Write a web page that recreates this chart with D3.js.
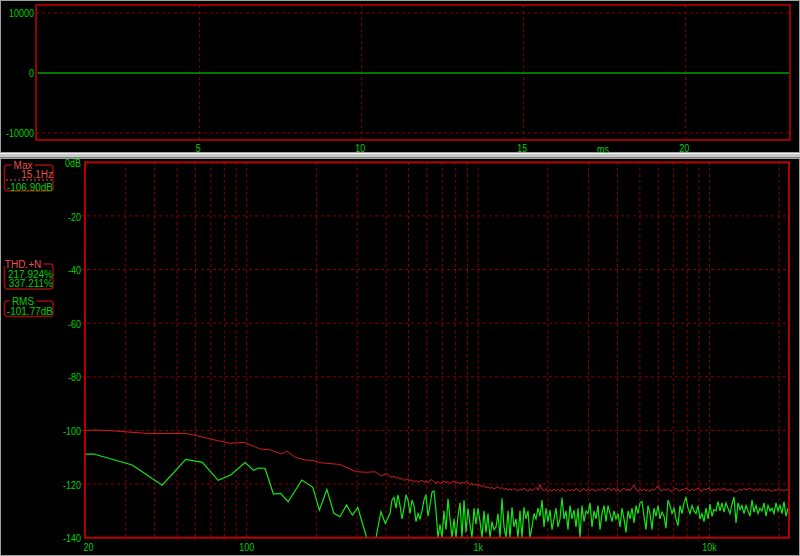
<!DOCTYPE html>
<html>
<head>
<meta charset="utf-8">
<script src="https://cdn.jsdelivr.net/npm/d3@7"></script>
<style>
  html, body { margin: 0; padding: 0; background: #000; }
  svg { display: block; }
  text { font-family: "Liberation Sans", Arimo, sans-serif; }
</style>
</head>
<body>
<main></main>
<script>
// ---------- data ----------
const timeMs = [0, 23.2];
const timeAmp = [0, 0];
const ampTicks = [10000, 0, -10000];
const msTicks = [5, 10, 15, 20];

const dbTicks = [0, -20, -40, -60, -80, -100, -120, -140];
const dbTickLabels = ['0dB', '-20', '-40', '-60', '-80', '-100', '-120', '-140'];
const freqGrid = [30, 40, 50, 60, 70, 80, 90, 100, 200, 300, 400, 500, 600, 700, 800, 900,
                  1000, 2000, 3000, 4000, 5000, 6000, 7000, 8000, 9000, 10000, 20000];
const freqLabelValues = [20, 100, 1000, 10000];
const freqLabelTexts = ['20', '100', '1k', '10k'];

// low end of the spectrum, read point by point
const greenLowHz = [20, 21.8, 32, 43.1, 54.5, 64.3, 75.2, 85.3, 98.4, 107, 112, 120, 130.4, 140, 151,
                    173, 193, 206, 222, 238, 253, 270, 286, 302, 313, 330, 362, 380, 397];
const greenLowDb = [-108.8, -108.8, -112.9, -120.4, -110.8, -111.9, -118.6, -116.6, -112.0, -114.9, -114.0, -114.1, -123.7, -123.5, -126.6,
                    -118.5, -121.2, -129.7, -122.0, -130.9, -132.2, -127.8, -131.6, -128.7, -133.4, -140, -140, -130.3, -134.7];

const redLowHz = [20, 21.8, 26.7, 37.1, 54.5, 61.2, 74.7, 85.3, 97.5, 114, 125.8, 141.7, 148.8, 161.6,
                  178.6, 197, 206, 253, 274, 298, 330, 358, 383, 402];
const redLowDb = [-100.1, -99.8, -100.2, -101.1, -101.1, -102.0, -103.8, -104.8, -104.4, -106.9, -107.2, -108.8, -107.7, -110.0,
                  -111.0, -111.3, -112.0, -112.7, -114.1, -115.4, -115.6, -115.4, -117.0, -116.0];

// dense upper band, evenly spaced on the log axis from denseStartHz to denseEndHz
const denseStartHz = 416;
const denseEndHz = 21830;
const greenDenseDb = [
  -131, -126, -125, -129, -124, -128, -133, -129, -124, -126, -131, -126, -128, -134, -131, -133, -130, -126, -124, -132,
  -128, -123, -122.6, -130, -140, -135,
  -140, -130, -137, -125.5, -133, -140, -133, -140, -132, -127, -140, -126, -138, -129, -135, -140, -129, -135, -129, -134,
  -140, -130, -138, -131, -140, -134, -137, -136, -131, -140, -125.3, -136, -140, -130, -140, -128.7, -136, -133, -140, -130,
  -140, -128.7, -133, -130, -140, -136, -131, -133, -129, -132, -126, -136, -129, -134, -129.7, -137, -133, -129, -136, -133,
  -125, -133, -130, -137, -128, -133, -129.7, -136, -129, -140, -128, -134, -130, -131, -127, -136, -130, -133, -128, -137,
  -131, -128, -134, -128, -131, -134, -130, -133,
  -131, -136, -129, -133, -138, -130, -133, -129, -134.5, -128, -131, -127, -126.5, -132, -137, -128, -131, -137, -129, -132,
  -128, -133, -130.5, -132, -136.5, -126, -128, -131, -129, -133, -135.5, -128, -131, -127, -125, -129, -131, -128, -130, -131,
  -128, -133, -131, -134, -129, -133, -127.5, -132, -129.5, -130, -126.5, -130, -127, -130.5, -127, -129, -131, -127.5, -124.8, -134.5,
  -127, -129.5, -128, -131, -128, -130, -132, -126, -130.5, -128, -131, -129, -130, -127, -132, -128, -130, -129, -131, -127,
  -130, -128, -131, -126.5, -132, -129
];
const redDenseDb = [
  -117.2, -117.5, -117.0, -117.8, -117.6, -118.2, -117.9, -118.6, -118.3, -118.0, -118.8, -118.4, -119.2, -118.7, -119.3, -119.0, -118.5, -119.4, -118.9, -119.5,
  -118.6, -118.3, -119.2, -119.6, -119.0, -119.8, -119.3, -118.9, -119.5, -119.1, -119.7, -119.2, -118.8, -119.6, -119.4, -119.9, -119.3, -119.7, -119.0, -119.6,
  -120.1, -119.8, -120.4, -120.0, -120.6, -120.3, -120.9, -120.7, -121.3, -121.0, -121.6, -121.2, -121.8, -121.4, -120.9, -121.7, -121.3, -122.0, -121.5, -122.2,
  -121.8, -122.4, -121.6, -122.1, -122.5, -121.9, -122.3, -121.5, -122.2, -122.6, -121.8, -122.4, -122.0, -121.2, -122.3, -120.2, -122.0, -122.5, -121.7, -122.8,
  -122.1, -122.6, -121.9, -122.4, -122.0, -122.7, -121.6, -122.3, -122.8, -121.9, -122.5, -122.0, -122.6, -121.5, -122.2, -122.9, -122.1, -121.7, -122.4, -122.0,
  -122.6, -121.8, -122.3, -122.7, -121.9, -122.4, -121.6, -122.2, -122.5, -121.4, -122.0, -122.3, -121.5, -122.6, -121.8, -122.9, -122.2, -121.6, -122.3, -121.9,
  -122.5, -121.3, -120.4, -122.1, -122.6, -122.0, -122.4, -121.8, -122.5, -122.1, -122.7, -121.9, -122.3, -121.6, -120.6, -122.2, -122.5, -121.8, -122.3, -121.7,
  -122.4, -122.8, -122.0, -121.5, -122.3, -122.6, -121.9, -122.2, -121.4, -122.1, -122.5, -121.8, -122.4, -122.0, -121.6, -122.3, -122.7, -121.8, -122.2, -121.5,
  -122.1, -122.6, -121.9, -122.4, -121.7, -122.3, -122.0, -121.4, -122.2, -122.5, -121.8, -122.1, -122.8, -123.0, -122.3, -121.9, -122.4, -121.6, -122.2, -122.0,
  -121.4, -122.1, -122.6, -121.8, -122.3, -121.7, -122.4, -122.0, -122.7, -121.9, -122.3, -122.8, -122.0, -122.5, -121.8, -122.4, -122.1, -122.6, -122.0, -122.3
];

// readouts in the left column
const maxReadout = ['15.1Hz', '-106.90dB'];
const thdReadout = ['217.924%', '337.211%'];
const rmsReadout = ['-101.77dB'];

// ---------- drawing ----------
const width = 800;
const height = 556;

const gridColor = '#8a0000';
const borderColor = '#c80000';
const labelColor = '#00d000';
const redText = '#e85050';

const svg = d3.select('main').append('svg')
  .attr('width', width)
  .attr('height', height);

svg.append('rect').attr('width', width).attr('height', height).attr('fill', '#000');

// text squeezed horizontally, like the narrow bitmap font of the original
const label = (parent, x, y, str, anchor, color, size, sx) => {
  return parent.append('g')
    .attr('transform', `translate(${x},${y}) scale(${sx},1)`)
    .append('text')
    .attr('dy', '0.36em')
    .attr('text-anchor', anchor)
    .attr('fill', color)
    .style('font-size', size + 'px')
    .text(str);
}

// window frames and the splitter between the two panes
svg.append('rect').attr('x', 0.5).attr('y', 0.5).attr('width', width - 1).attr('height', 152)
  .attr('fill', 'none').attr('stroke', '#a0a0a0');
svg.append('rect').attr('x', 0).attr('y', 153).attr('width', width).attr('height', 5).attr('fill', '#c8c8c8');
svg.append('line').attr('x1', 0).attr('x2', width).attr('y1', 153.5).attr('y2', 153.5).attr('stroke', '#f0f0f0');
svg.append('line').attr('x1', 0).attr('x2', width).attr('y1', 157.5).attr('y2', 157.5).attr('stroke', '#808080');
svg.append('rect').attr('x', 0.5).attr('y', 158.5).attr('width', width - 1).attr('height', height - 159)
  .attr('fill', 'none').attr('stroke', '#a0a0a0');

const drawTop = () => {
  const x = d3.scaleLinear().domain([-0.05, 23.22]).range([36, 790]);
  const y = d3.scaleLinear().domain([-11167, 11333]).range([140, 5]);
  const g = svg.append('g');

  g.selectAll('line.vgrid')
    .data(msTicks)
    .enter()
    .append('line')
    .attr('x1', d => x(d)).attr('x2', d => x(d))
    .attr('y1', 5).attr('y2', 140)
    .attr('stroke', gridColor).attr('stroke-dasharray', '3,3');

  g.selectAll('line.hgrid')
    .data(ampTicks.filter(d => d !== 0))
    .enter()
    .append('line')
    .attr('x1', 36).attr('x2', 790)
    .attr('y1', d => y(d)).attr('y2', d => y(d))
    .attr('stroke', gridColor).attr('stroke-dasharray', '3,3');

  const line = d3.line().x(d => x(d[0])).y(d => y(d[1]));
  g.append('path')
    .datum(d3.zip(timeMs, timeAmp))
    .attr('d', line)
    .attr('fill', 'none')
    .attr('stroke', '#00a000')
    .attr('stroke-width', 1.5);

  g.append('rect')
    .attr('x', 36).attr('y', 5).attr('width', 754).attr('height', 135)
    .attr('fill', 'none').attr('stroke', borderColor).attr('stroke-width', 1.5);

  ampTicks.forEach(d => label(g, 34, y(d), d, 'end', labelColor, 11.5, 0.78));
  msTicks.forEach(d => label(g, x(d) - 1.5, 147.5, d, 'middle', labelColor, 11.5, 0.78));
  label(g, 603, 148.5, 'ms', 'middle', labelColor, 11.5, 0.78);
}

const drawBottom = () => {
  const x = d3.scaleLog().domain([20, 22050]).range([85, 789]);
  const y = d3.scaleLinear().domain([-140, 0]).range([537.7, 162.3]);
  const g = svg.append('g');

  g.append('clipPath').attr('id', 'specClip')
    .append('rect').attr('x', 85).attr('y', 162).attr('width', 704).attr('height', 376);

  g.selectAll('line.vgrid')
    .data(freqGrid)
    .enter()
    .append('line')
    .attr('x1', d => x(d)).attr('x2', d => x(d))
    .attr('y1', 162).attr('y2', 541)
    .attr('stroke', gridColor).attr('stroke-dasharray', '3,3');

  g.selectAll('line.hgrid')
    .data(dbTicks.filter(d => d !== 0 && d !== -140))
    .enter()
    .append('line')
    .attr('x1', 81).attr('x2', 789)
    .attr('y1', d => y(d)).attr('y2', d => y(d))
    .attr('stroke', gridColor).attr('stroke-dasharray', '3,3');

  // dense part of each trace
  const n = greenDenseDb.length;
  const denseHz = d3.range(n).map(i => denseStartHz * Math.pow(denseEndHz / denseStartHz, i / (n - 1)));

  const redPts = d3.zip(redLowHz, redLowDb).concat(d3.zip(denseHz, redDenseDb));
  const greenPts = d3.zip(greenLowHz, greenLowDb).concat(d3.zip(denseHz, greenDenseDb));

  const line = d3.line()
    .x(d => x(d[0]))
    .y(d => y(Math.max(d[1], -140)));

  g.append('path')
    .datum(redPts)
    .attr('d', line)
    .attr('clip-path', 'url(#specClip)')
    .attr('fill', 'none').attr('stroke', '#d21c1c').attr('stroke-width', 1);

  g.append('path')
    .datum(greenPts)
    .attr('d', line)
    .attr('clip-path', 'url(#specClip)')
    .attr('fill', 'none').attr('stroke', '#14e814').attr('stroke-width', 1.2);

  g.append('rect')
    .attr('x', 85).attr('y', 162.3).attr('width', 704).attr('height', 375.4)
    .attr('fill', 'none').attr('stroke', borderColor).attr('stroke-width', 1.8);

  dbTicks.forEach((d, i) => label(g, 81, y(d) + 0.5, dbTickLabels[i], 'end', labelColor, 11.5, 0.78));
  freqLabelValues.forEach((d, i) => {
    const first = i === 0;
    label(g, first ? 83.5 : x(d), 547, freqLabelTexts[i], first ? 'start' : 'middle', labelColor, 11.5, 0.78);
  });
}

// small framed readout with a caption sitting on its top edge
const readoutBox = (top, h, title, titleColor, rows, rowColors, rowYs) => {
  const g = svg.append('g');
  g.append('rect')
    .attr('x', 4.5).attr('y', top).attr('width', 48.5).attr('height', h)
    .attr('rx', 3).attr('fill', 'none').attr('stroke', '#9a0c0c').attr('stroke-width', 1.5);
  const gap = g.append('rect').attr('fill', '#000');
  const t = label(g, 23, top, title, 'middle', titleColor, 10, 1);
  const w = t.node().getComputedTextLength();
  gap.attr('x', 23 - w / 2 - 2).attr('y', top - 2).attr('width', w + 4).attr('height', 4);
  rows.forEach((r, i) => label(g, 53, rowYs[i], r, 'end', rowColors[i], 10, 1));
  return g;
}

drawTop();
drawBottom();

const maxBox = readoutBox(165, 26, 'Max', redText, maxReadout, [redText, labelColor], [174.5, 187.5]);
maxBox.append('line')
  .attr('x1', 6).attr('x2', 52).attr('y1', 180).attr('y2', 180)
  .attr('stroke', redText).attr('stroke-dasharray', '2,2');
readoutBox(264, 25, 'THD.+N', redText, thdReadout, [labelColor, labelColor], [274, 283]);
readoutBox(301, 15.5, 'RMS', labelColor, rmsReadout, [labelColor], [311.5]);
</script>
</body>
</html>
